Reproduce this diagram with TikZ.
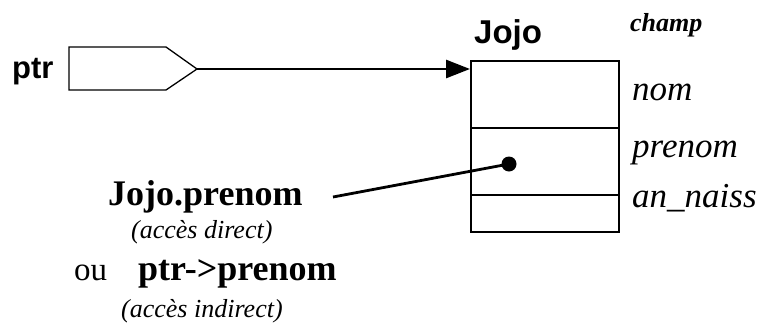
\documentclass[tikz,border=0pt]{standalone}
\usepackage{fontspec}
\setmainfont{Liberation Serif}
\setsansfont{Liberation Sans}
\usetikzlibrary{arrows.meta}
\newcommand{\fsz}[1]{\fontsize{#1}{#1}\selectfont}
\begin{document}
\begin{tikzpicture}[x=1pt,y=-1pt,
  txt/.style={inner sep=0pt,anchor=base west},
  field/.style={draw,line width=1.6pt,minimum width=148pt,anchor=north west,inner sep=0pt},
  link/.style={line width=2.8pt}]
\useasboundingbox (0,0) rectangle (764,327);
% pointer
\node[txt,font=\sffamily\bfseries\fsz{31}] (ptrlbl) at (12,78) {ptr};
\draw[line width=1.3pt] (69,47) -- (166,47) -- (197,69) -- (166,90) -- (69,90) -- cycle;
\coordinate (ptrtip) at (197,69);
% structure
\node[field,minimum height=67pt] (fnom) at (470,60) {};
\node[field,minimum height=67pt] (fprenom) at (470,127) {};
\node[field,minimum height=37pt] (fan) at (470,194) {};
\node[txt,font=\sffamily\bfseries\fsz{33}] (jojo) at (474,43) {Jojo};
\node[txt,font=\bfseries\itshape\fsz{26}] (champ) at (630,31) {champ};
\node[txt,font=\itshape\fsz{35}] (nom) at (632,100) {nom};
\node[txt,font=\itshape\fsz{35}] (prenom) at (632,157) {prenom};
\node[txt,font=\itshape\fsz{35}] (annaiss) at (632,207) {an\_naiss};
\draw[link,-{Triangle[length=24pt,width=18pt]}] (ptrtip) -- (ptrtip -| fnom.west);
% dot
\fill (509,164) circle (7.5pt) coordinate (dot);
\coordinate (lstart) at (333,197);
\draw[link] (lstart) -- (dot);
% left texts
\node[txt,font=\bfseries\fsz{36}] (jp) at (108,205) {Jojo.prenom};
\node[txt,font=\itshape\fsz{26}] (ad) at (131,238) {(accès direct)};
\node[txt,font=\fsz{33}] (ou) at (74,280) {ou};
\node[txt,font=\bfseries\fsz{36}] (pp) at (138,280) {ptr->prenom};
\node[txt,font=\itshape\fsz{26}] (ai) at (121,317) {(accès indirect)};
\end{tikzpicture}
\end{document}
